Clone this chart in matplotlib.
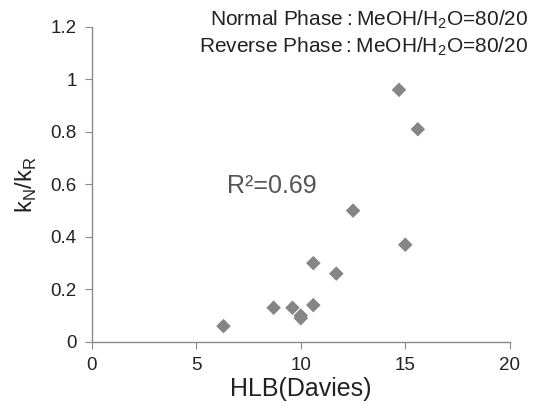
import numpy as np
import matplotlib
matplotlib.use('Agg')
import matplotlib.pyplot as plt
from matplotlib.ticker import FuncFormatter

plt.rcParams['font.family'] = ['Liberation Sans', 'DejaVu Sans']

# HLB (Davies) vs kN/kR
hlb = [6.3, 8.7, 9.6, 10.0, 10.0, 10.6, 10.6, 11.7, 12.5, 15.0, 14.7, 15.6]
ratio = [0.06, 0.13, 0.13, 0.10, 0.09, 0.14, 0.30, 0.26, 0.50, 0.37, 0.96, 0.81]
xticks = [0, 5, 10, 15, 20]
yticks = [0, 0.2, 0.4, 0.6, 0.8, 1.0, 1.2]

fig = plt.figure(figsize=(5.4, 4.07), dpi=100)
ax = fig.add_axes([0.170, 0.160, 0.774, 0.774])
c = '#222222'
g = '#8a8a8a'

ax.scatter(hlb, ratio, marker='D', s=55, color='#858585', edgecolors='none', zorder=3)

ax.set_xlim(0, 20)
ax.set_ylim(0, 1.2)
ax.set_xticks(xticks)
ax.set_yticks(yticks)
ax.yaxis.set_major_formatter(FuncFormatter(lambda v, p: '%g' % round(v, 2)))

for s in ['top', 'right']:
    ax.spines[s].set_visible(False)
for s in ['left', 'bottom']:
    ax.spines[s].set_color(g)
    ax.spines[s].set_linewidth(1.0)
ax.tick_params(axis='both', direction='out', length=5, color=g, labelsize=13.5, labelcolor=c)
ax.tick_params(axis='x', pad=6)
ax.tick_params(axis='y', pad=6)

ax.set_xlabel('HLB(Davies)', fontsize=18, color=c, labelpad=2)
ax.set_ylabel('k$_\\mathregular{N}$/k$_\\mathregular{R}$', fontsize=17, color=c, labelpad=8)

ax.text(6.46, 0.568, 'R\u00b2=0.69', fontsize=18, color='#555555', va='baseline')

fig.text(0.978, 1 - 25/407, 'Normal Phase\u2009:\u2009MeOH/H$_\\mathregular{2}$O=80/20', ha='right', va='baseline',
         fontsize=15, color=c)
fig.text(0.978, 1 - 52/407, 'Reverse Phase\u2009:\u2009MeOH/H$_\\mathregular{2}$O=80/20', ha='right', va='baseline',
         fontsize=15, color=c)

plt.savefig('out.png', dpi=100)
